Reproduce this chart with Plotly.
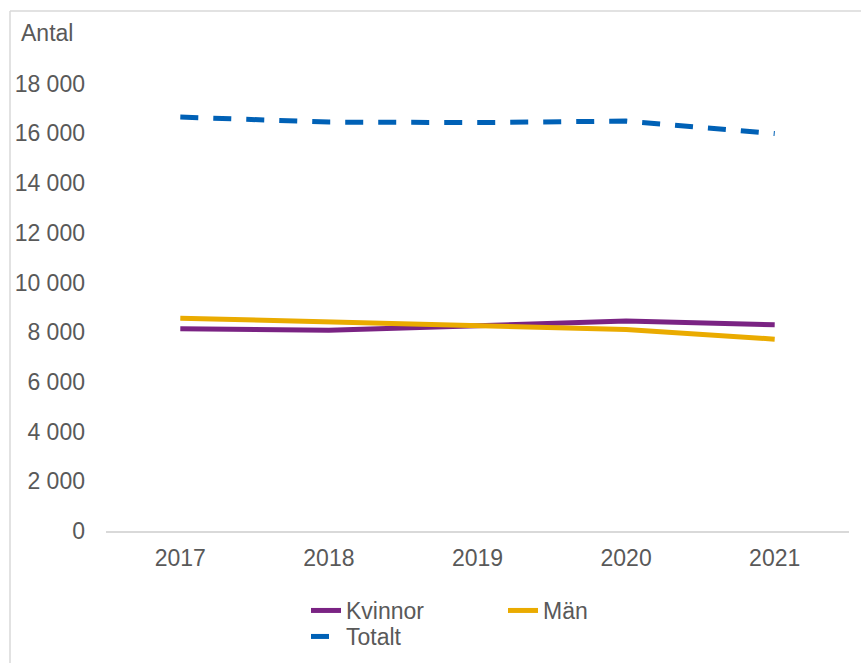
import plotly.graph_objects as go

years = ["2017", "2018", "2019", "2020", "2021"]
kvinnor = [8135, 8080, 8255, 8455, 8295]
man = [8565, 8415, 8255, 8110, 7720]
totalt = [16655, 16455, 16435, 16495, 15995]

y_ticks = [0, 2000, 4000, 6000, 8000, 10000, 12000, 14000, 16000, 18000]

FONT = "Liberation Sans, Arial, sans-serif"
GREY = "#595959"

fig = go.Figure()
fig.add_trace(go.Scatter(x=years, y=kvinnor, name="Kvinnor", mode="lines",
                         line=dict(color="#7A2383", width=5), legend="legend"))
fig.add_trace(go.Scatter(x=years, y=man, name="Män", mode="lines",
                         line=dict(color="#EAAB00", width=5), legend="legend"))
fig.add_trace(go.Scatter(x=years, y=totalt, name="Totalt", mode="lines",
                         line=dict(color="#0061B6", width=5, dash="18px,15px"),
                         legend="legend2"))

L, R, T, B = 106, 12, 34, 132
W, H = 861, 663
pw, ph = W - L - R, H - T - B

def px(xp):
    return (xp - L) / pw

def py(yp):
    return (H - B - yp) / ph

legend_common = dict(orientation="h", xanchor="left", yanchor="top",
                     entrywidth=152, entrywidthmode="pixels",
                     font=dict(family=FONT, size=23, color=GREY),
                     bgcolor="rgba(0,0,0,0)", traceorder="normal")

fig.update_layout(
    width=W, height=H,
    margin=dict(l=L, r=R, t=T, b=B, autoexpand=False),
    paper_bgcolor="white", plot_bgcolor="white",
    separators=", ",
    font=dict(family=FONT, size=23, color=GREY),
    showlegend=True,
    legend=dict(x=px(306), y=py(589), **legend_common),
    legend2=dict(x=px(306), y=py(615), **legend_common),
    xaxis=dict(type="category", range=[-0.5, 4.5], showgrid=False, showline=True,
               linecolor="#D9D9D9", linewidth=2, ticks="", ticklabelstandoff=5,
               tickfont=dict(family=FONT, size=23, color=GREY), zeroline=False),
    yaxis=dict(range=[0, 20000], tickvals=y_ticks, tickformat=",d", showgrid=False,
               showline=False, zeroline=False, ticks="", ticklabelstandoff=20,
               tickfont=dict(family=FONT, size=23, color=GREY)),
    annotations=[dict(text="Antal", xref="paper", yref="paper", x=px(19), y=py(33),
                      xanchor="left", yanchor="middle", showarrow=False,
                      font=dict(family=FONT, size=23, color=GREY))],
    shapes=[
        dict(type="line", xref="paper", yref="paper", x0=px(10), x1=px(10),
             y0=py(11), y1=py(700), line=dict(color="#D9D9D9", width=1.5)),
        dict(type="line", xref="paper", yref="paper", x0=px(10), x1=px(900),
             y0=py(11), y1=py(11), line=dict(color="#D9D9D9", width=1.5)),
    ],
)

fig.write_html(
    "out.html",
    config={"displayModeBar": False},
    post_script="document.body.style.margin='0';document.body.style.overflow='hidden';",
)
